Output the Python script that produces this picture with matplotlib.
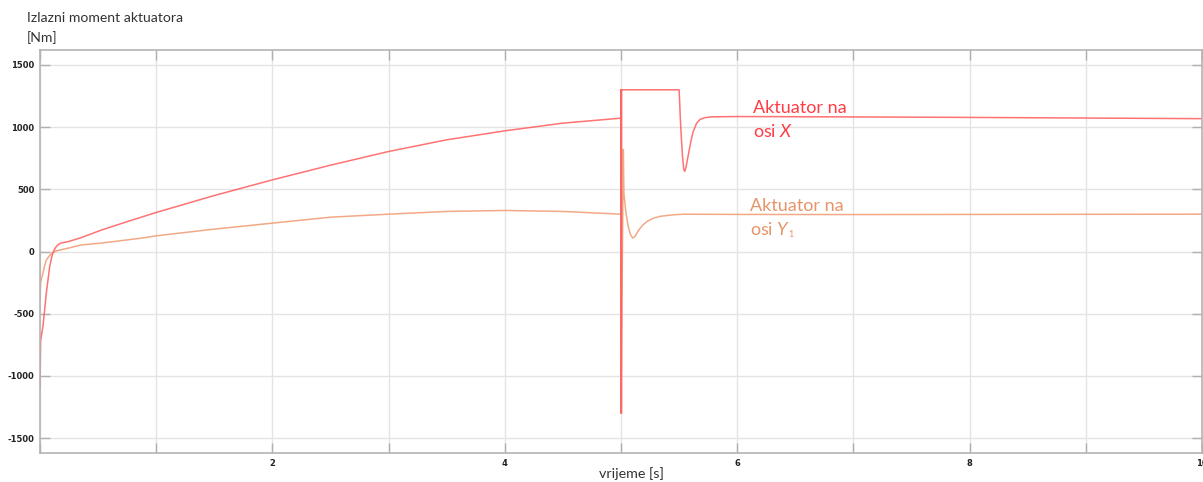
import numpy as np
import matplotlib
matplotlib.use("Agg")
import matplotlib.pyplot as plt

plt.rcParams['mathtext.fontset'] = 'custom'
plt.rcParams['mathtext.rm'] = 'Lato'
plt.rcParams['mathtext.it'] = 'Lato:italic'

# Aktuator na osi X
t_x = [0, 0, 0.005, 0.025, 0.04, 0.054, 0.07, 0.083, 0.1, 0.11, 0.125, 0.14, 0.16, 0.18, 0.24,
       0.35, 0.53, 0.75,
       1.0, 1.5, 2.0, 2.5, 3.0, 3.5, 4.0, 4.5, 5.0,
       5.0, 5.0, 5.005, 5.005, 5.01, 5.01,
       5.5, 5.505, 5.51, 5.52, 5.53, 5.54, 5.55, 5.56, 5.58, 5.6, 5.62, 5.65, 5.68,
       5.72, 5.78, 6.0, 7.0, 8.0, 9.0, 10.0]
m_x = [-1100, -1100, -720, -604, -470, -337, -220, -122, -50, -13, 18, 39, 58, 68, 79,
       110, 173, 240,
       314, 450, 576, 694, 804, 898, 970, 1032, 1072,
       1300, -1300, -1300, 1300, 1300, 1300,
       1300, 1200, 1080, 900, 760, 660, 645, 680, 780, 880, 960, 1030, 1062,
       1076, 1083, 1085, 1082, 1078, 1073, 1068]

# Aktuator na osi Y1
t_y = [0, 0, 0.005, 0.025, 0.04, 0.054, 0.08, 0.1, 0.14, 0.24, 0.35, 0.53, 0.87,
       1.0, 1.5, 2.0, 2.5, 3.0, 3.5, 4.0, 4.5, 5.0,
       5.0, 5.0, 5.02, 5.025, 5.04, 5.06, 5.08, 5.10, 5.12, 5.15, 5.19, 5.23, 5.28,
       5.34, 5.45, 5.54, 6.0, 7.0, 8.0, 9.0, 10.0]
m_y = [0, -380, -250, -175, -115, -70, -35, -15, 5, 26, 52, 68, 107,
       126, 180, 228, 276, 300, 322, 330, 322, 300,
       1300, -1300, 820, 470, 330, 210, 140, 108, 120, 170, 215, 245, 268,
       283, 295, 300, 298, 297, 298, 299, 300]

y_ticks = [-1500, -1000, -500, 0, 500, 1000, 1500]
x_ticks = [0, 1, 2, 3, 4, 5, 6, 7, 8, 9, 10]
x_labels = ['', '', '2', '', '4', '', '6', '', '8', '', '10']

fig = plt.figure(figsize=(12.03, 4.82), dpi=100)
ax = fig.add_axes([40 / 1203, 1 - 453 / 482, 1162 / 1203, 403 / 482])

ax.plot(t_y, m_y, color='#f0a078', lw=1.1, alpha=0.9)
ax.plot(t_x, m_x, color='#ff5a5a', lw=1.1, alpha=0.85)

ax.set_xlim(0, 10)
ax.set_ylim(-1620, 1620)
ax.set_xticks(x_ticks)
ax.set_xticklabels(x_labels)
ax.set_yticks(y_ticks)
ax.set_yticklabels([str(v) for v in y_ticks])
ax.grid(True, color='#e4e4e4', lw=1.0)
ax.set_axisbelow(True)
for s in ax.spines.values():
    s.set_color('#b4b4b4')
    s.set_linewidth(1.2)
ax.tick_params(direction='in', length=7, width=1.0, color='#b0b0b0',
               top=True, right=True, labelsize=6, pad=4)
for lab in ax.get_xticklabels() + ax.get_yticklabels():
    lab.set_fontweight('bold')
    lab.set_color('#222222')

ax.set_xlabel('vrijeme [s]', fontsize=10.3, family='Lato', color='#333333')
ax.xaxis.label.set_va('center')
ax.xaxis.set_label_coords(0.509, -0.052)

fig.text(27 / 1203, 1 - 18 / 482, 'Izlazni moment aktuatora', fontsize=10.1,
         family='Lato', color='#333333', va='center')
fig.text(27 / 1203, 1 - 38 / 482, '[Nm]', fontsize=10.1,
         family='Lato', color='#333333', va='center')

red = '#ff3c46'
orange = '#e8946a'
ax.text(6.14, 1153, 'Aktuator na', fontsize=13, family='Lato', color=red, va='center')
ax.text(6.14, 968, 'osi $\\mathit{X}$', fontsize=13, family='Lato', color=red, va='center')
ax.text(6.11, 365, 'Aktuator na', fontsize=13, family='Lato', color=orange, va='center')
ax.text(6.11, 173, 'osi $\\mathit{Y}$', fontsize=13, family='Lato', color=orange, va='center')
ax.text(6.44, 138, '1', fontsize=6.5, family='Lato', color=orange, va='center')

fig.savefig('out.png', dpi=100)
